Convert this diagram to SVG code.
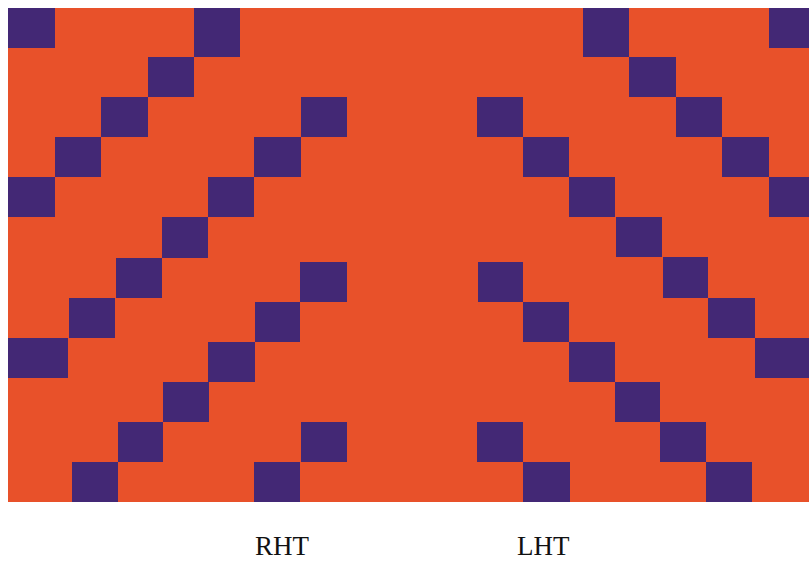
<svg xmlns="http://www.w3.org/2000/svg" width="809" height="562" viewBox="0 0 809 562">
<style>
.bg{fill:#E8512A}
.p{fill:#432875}
.t{font-family:"Liberation Serif","DejaVu Serif",serif;font-size:27px;fill:#111}
</style>
<rect width="809" height="562" fill="#fff"/>
<rect class="bg" x="8" y="8" width="801" height="494"/>
<g id="rht">
<rect class="p" x="8" y="8" width="47" height="40"/>
<rect class="p" x="194" y="8" width="46" height="49"/>
<rect class="p" x="148" y="57" width="46" height="40"/>
<rect class="p" x="101" y="97" width="47" height="40"/>
<rect class="p" x="55" y="137" width="46" height="40"/>
<rect class="p" x="8" y="177" width="47" height="40"/>
<rect class="p" x="301" y="97" width="46" height="40"/>
<rect class="p" x="254" y="137" width="47" height="40"/>
<rect class="p" x="208" y="177" width="46" height="40"/>
<rect class="p" x="162" y="217" width="46" height="41"/>
<rect class="p" x="116" y="258" width="46" height="40"/>
<rect class="p" x="69" y="298" width="46" height="40"/>
<rect class="p" x="8" y="338" width="60" height="40"/>
<rect class="p" x="300" y="262" width="47" height="40"/>
<rect class="p" x="255" y="302" width="45" height="40"/>
<rect class="p" x="208" y="342" width="47" height="40"/>
<rect class="p" x="163" y="382" width="46" height="40"/>
<rect class="p" x="118" y="422" width="45" height="40"/>
<rect class="p" x="72" y="462" width="46" height="40"/>
<rect class="p" x="301" y="422" width="46" height="40"/>
<rect class="p" x="254" y="462" width="46" height="40"/>
</g>
<g id="lht">
<rect class="p" x="583" y="8" width="46" height="49"/>
<rect class="p" x="769" y="8" width="40" height="40"/>
<rect class="p" x="629" y="57" width="47" height="40"/>
<rect class="p" x="676" y="97" width="46" height="40"/>
<rect class="p" x="722" y="137" width="47" height="40"/>
<rect class="p" x="477" y="97" width="46" height="40"/>
<rect class="p" x="523" y="137" width="46" height="40"/>
<rect class="p" x="569" y="177" width="46" height="40"/>
<rect class="p" x="616" y="217" width="46" height="40"/>
<rect class="p" x="663" y="257" width="45" height="41"/>
<rect class="p" x="708" y="298" width="47" height="40"/>
<rect class="p" x="755" y="338" width="54" height="40"/>
<rect class="p" x="769" y="177" width="40" height="40"/>
<rect class="p" x="478" y="262" width="45" height="40"/>
<rect class="p" x="523" y="302" width="46" height="40"/>
<rect class="p" x="569" y="342" width="46" height="40"/>
<rect class="p" x="615" y="382" width="45" height="40"/>
<rect class="p" x="660" y="422" width="46" height="40"/>
<rect class="p" x="706" y="462" width="46" height="40"/>
<rect class="p" x="477" y="422" width="46" height="40"/>
<rect class="p" x="523" y="462" width="47" height="40"/>
</g>
<text class="t" x="255" y="555">RHT</text>
<text class="t" x="517" y="555">LHT</text>
</svg>
